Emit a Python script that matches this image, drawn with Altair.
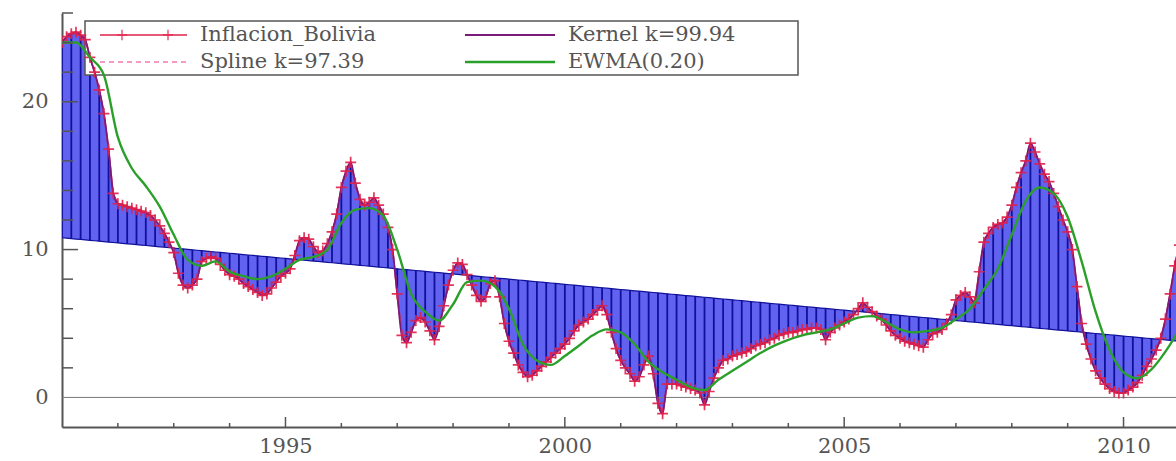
import altair as alt
import pandas as pd

# Monthly 12-month inflation rate, Bolivia (%), January..December of each year
infl_1991 = [24.0, 24.4, 24.6, 24.7, 24.5, 24.2, 23.0, 22.0, 20.8, 19.2, 16.8, 13.8]
infl_1992 = [13.1, 13.0, 12.9, 12.8, 12.7, 12.6, 12.5, 12.3, 12.0, 11.6, 11.1, 10.5]
infl_1993 = [9.8, 8.4, 7.6, 7.4, 7.6, 8.0, 9.2, 9.4, 9.5, 9.4, 9.0, 8.6]
infl_1994 = [8.3, 8.2, 8.0, 7.7, 7.5, 7.3, 7.1, 6.9, 7.0, 7.4, 7.8, 8.2]
infl_1995 = [8.4, 8.7, 9.6, 10.6, 10.8, 10.7, 10.2, 9.8, 9.9, 10.4, 11.2, 12.4]
infl_1996 = [14.2, 15.3, 15.9, 14.5, 13.4, 13.0, 13.2, 13.5, 13.0, 12.4, 11.5, 10.0]
infl_1997 = [7.0, 4.2, 3.7, 4.4, 5.2, 5.4, 5.1, 4.5, 3.9, 4.8, 6.2, 7.6]
infl_1998 = [8.6, 9.1, 9.0, 8.3, 7.6, 6.9, 6.5, 6.8, 7.7, 7.9, 6.8, 5.0]
infl_1999 = [3.8, 3.0, 2.2, 1.7, 1.4, 1.5, 1.8, 2.1, 2.4, 2.7, 3.0, 3.3]
infl_2000 = [3.6, 4.0, 4.5, 4.9, 5.1, 5.3, 5.6, 5.9, 6.2, 5.6, 4.4, 3.3]
infl_2001 = [2.5, 2.0, 1.6, 1.1, 1.4, 2.2, 2.8, 1.6, -0.4, -1.1, 0.9, 0.9]
infl_2002 = [0.9, 0.8, 0.7, 0.6, 0.5, 0.3, -0.5, 0.4, 1.3, 2.0, 2.5, 2.6]
infl_2003 = [2.8, 2.9, 3.0, 3.1, 3.3, 3.5, 3.6, 3.7, 3.9, 4.0, 4.2, 4.3]
infl_2004 = [4.4, 4.4, 4.5, 4.6, 4.6, 4.7, 4.7, 4.6, 3.9, 4.4, 4.7, 4.9]
infl_2005 = [5.1, 5.3, 5.6, 6.0, 6.4, 6.1, 5.8, 5.5, 5.3, 4.9, 4.5, 4.2]
infl_2006 = [4.0, 3.8, 3.7, 3.6, 3.5, 3.4, 3.9, 4.3, 4.4, 4.6, 5.0, 5.6]
infl_2007 = [6.6, 6.9, 7.1, 6.8, 6.4, 8.5, 10.5, 11.1, 11.5, 11.7, 11.8, 12.2]
infl_2008 = [13.0, 14.2, 15.2, 16.0, 17.2, 16.6, 15.8, 15.1, 14.6, 13.8, 12.9, 12.0]
infl_2009 = [11.2, 10.0, 7.5, 5.0, 3.6, 2.6, 1.8, 1.3, 0.9, 0.6, 0.4, 0.3]
infl_2010 = [0.3, 0.5, 0.7, 1.0, 1.5, 2.1, 2.6, 3.2, 4.0, 5.3, 7.0, 8.9]
infl_2011 = [10.3]

inflation_by_year = {
    1991: infl_1991, 1992: infl_1992, 1993: infl_1993, 1994: infl_1994,
    1995: infl_1995, 1996: infl_1996, 1997: infl_1997, 1998: infl_1998,
    1999: infl_1999, 2000: infl_2000, 2001: infl_2001, 2002: infl_2002,
    2003: infl_2003, 2004: infl_2004, 2005: infl_2005, 2006: infl_2006,
    2007: infl_2007, 2008: infl_2008, 2009: infl_2009, 2010: infl_2010,
    2011: infl_2011,
}

# EWMA(0.20) of the series, one value per quarter from 1991 Q1 to 2011 Q1
ewma_quarterly = [
    24.0, 24.0, 23.0, 21.8,
    17.6, 15.5, 14.3, 12.9,
    11.0, 9.3, 8.9, 9.2,
    8.5, 8.2, 8.0, 8.2,
    8.7, 9.3, 9.5, 10.0,
    11.8, 12.7, 12.8, 12.3,
    10.0, 7.0, 5.8, 5.2,
    6.3, 7.8, 7.9, 7.5,
    6.0, 3.6, 2.5, 2.2,
    2.8, 3.5, 4.2, 4.6,
    4.4, 3.6, 2.4, 1.7,
    1.2, 0.7, 0.5, 1.2,
    1.8, 2.4, 3.0, 3.5,
    3.9, 4.2, 4.4, 4.6,
    5.0, 5.4, 5.5, 5.1,
    4.6, 4.4, 4.5, 4.7,
    5.3, 6.0, 7.3, 8.7,
    11.0, 13.3, 14.2, 13.8,
    12.2, 9.2, 5.8, 3.2,
    1.7, 1.3, 1.9, 3.1,
    4.6,
]

# Fitted linear trend
trend_at_1991 = 10.8
trend_slope = -0.35

legend_labels = ["Inflacion_Bolivia", "Spline k=97.39", "Kernel k=99.94", "EWMA(0.20)"]
major_years = [1995, 2000, 2005, 2010]
minor_years = [y for y in range(1992, 2011) if y not in major_years]
y_major = [10, 20]
y_minor = [2, 4, 6, 8, 12, 14, 16, 18, 22, 24, 26]

# ---- tables ----
rows = []
k = 0
for yr, vals in inflation_by_year.items():
    for m, v in enumerate(vals):
        t = yr + m / 12.0
        rows.append({"t": t, "v": v, "trend": trend_at_1991 + trend_slope * (t - 1991), "k": k})
        k += 1
df = pd.DataFrame(rows)
df_rules = df[df["k"] % 2 == 0]
df_ewma = pd.DataFrame({"t": [1991 + 0.25 * i for i in range(len(ewma_quarterly))], "v": ewma_quarterly})

W, H = 1114, 414
X_MAX = 1991 + W / 55.87
FONT = "DejaVu Serif"
GREY = "#555555"
RED = "#e0204a"
PURPLE = "#7a1a7a"
PINK = "#f07ab4"
GREEN = "#2aa02a"
FILL = "#5a5af0"
NAVY = "#10109a"

x_enc = alt.X("t:Q", title=None,
              scale=alt.Scale(domain=[1991, X_MAX], nice=False, zero=False),
              axis=alt.Axis(values=major_years, format="d", labelPadding=8))
y_enc = alt.Y("v:Q", title=None,
              scale=alt.Scale(domain=[-2, 26], nice=False, zero=False),
              axis=alt.Axis(values=[0, 10, 20], labelPadding=14))

base = alt.Chart(df)

# blue band between the series and its trend
band = base.mark_area(color=FILL, opacity=0.95, clip=True).encode(x=x_enc, y=y_enc, y2="trend:Q")
hatch = alt.Chart(df_rules).mark_rule(color=NAVY, strokeWidth=1.8, clip=True).encode(
    x=x_enc, y=y_enc, y2="trend:Q")
trend_line = base.mark_line(color=NAVY, strokeWidth=1.2, clip=True).encode(x=x_enc, y=alt.Y("trend:Q"))

zero_line = alt.Chart(pd.DataFrame({"v": [0]})).mark_rule(color="#777777", strokeWidth=1).encode(
    y=y_enc, x=alt.value(0), x2=alt.value(W))

red_line = base.mark_line(color=RED, strokeWidth=1.6, clip=True).encode(x=x_enc, y=y_enc)
spline = base.mark_line(color=PINK, strokeWidth=1.4, strokeDash=[5, 4], interpolate="monotone",
                        clip=True).encode(x=x_enc, y=y_enc)
kernel = base.mark_line(color=PURPLE, strokeWidth=1.8, interpolate="monotone", clip=True).encode(
    x=x_enc, y=y_enc)
PLUS = "M-1,0H1M0,-1V1"
markers = base.mark_point(shape=PLUS, size=120, strokeWidth=1.7, filled=False, color=RED,
                          opacity=0.9, clip=True).encode(x=x_enc, y=y_enc)
ewma = alt.Chart(df_ewma).mark_line(color=GREEN, strokeWidth=2.4, interpolate="monotone",
                                    clip=True).encode(x=x_enc, y=y_enc)

# inward tick marks
xt_major = alt.Chart(pd.DataFrame({"t": major_years})).mark_rule(color=GREY, strokeWidth=1.5).encode(
    x=x_enc, y=alt.value(H), y2=alt.value(H - 10))
xt_minor = alt.Chart(pd.DataFrame({"t": minor_years})).mark_rule(color=GREY, strokeWidth=1.5).encode(
    x=x_enc, y=alt.value(H), y2=alt.value(H - 4))
yt_major = alt.Chart(pd.DataFrame({"v": y_major})).mark_rule(color=GREY, strokeWidth=1.5).encode(
    y=y_enc, x=alt.value(0), x2=alt.value(16))
yt_minor = alt.Chart(pd.DataFrame({"v": y_minor})).mark_rule(color=GREY, strokeWidth=1.5).encode(
    y=y_enc, x=alt.value(0), x2=alt.value(11))

# legend
one = pd.DataFrame({"a": [0]})
leg_box = alt.Chart(one).mark_rect(fill="white", stroke=GREY, strokeWidth=1.5).encode(
    x=alt.value(23), x2=alt.value(736), y=alt.value(8), y2=alt.value(62))
R1, R2 = 22, 49


def leg_line(x0, x1, yy, color, width=1.6, dash=None):
    kw = dict(color=color, strokeWidth=width)
    if dash:
        kw["strokeDash"] = dash
    return alt.Chart(one).mark_rule(**kw).encode(
        x=alt.value(x0), x2=alt.value(x1), y=alt.value(yy))


def leg_text(x0, yy, label):
    return alt.Chart(one).mark_text(align="left", baseline="middle", font=FONT, fontSize=21,
                                    color=GREY).encode(
        x=alt.value(x0), y=alt.value(yy), text=alt.value(label))


leg_marks = alt.Chart(pd.DataFrame({"px": [60, 106]})).mark_point(
    shape=PLUS, size=110, strokeWidth=1.6, filled=False, color=RED).encode(
    x=alt.X("px:Q", scale=None), y=alt.value(R1))

legend = [
    leg_box,
    leg_line(38, 125, R1, RED), leg_marks, leg_text(138, R1, legend_labels[0]),
    leg_line(38, 125, R2, PINK, 1.4, [5, 4]), leg_text(138, R2, legend_labels[1]),
    leg_line(403, 493, R1, PURPLE, 2.2), leg_text(506, R1, legend_labels[2]),
    leg_line(403, 493, R2, GREEN, 2.4), leg_text(506, R2, legend_labels[3]),
]

chart = alt.layer(
    band, hatch, trend_line, zero_line, *legend,
    red_line, spline, kernel, markers, ewma,
    xt_major, xt_minor, yt_major, yt_minor,
).properties(
    width=W, height=H,
    padding={"left": 62, "top": 13, "right": 0, "bottom": 34},
    autosize=alt.AutoSizeParams(type="none"),
    background="white",
).configure_view(stroke=None).configure_axis(
    grid=False, ticks=False, domainColor=GREY, domainWidth=2,
    labelFont=FONT, labelFontSize=21, labelColor=GREY,
)

chart.save("out.html", embed_options={"renderer": "svg", "actions": False})
